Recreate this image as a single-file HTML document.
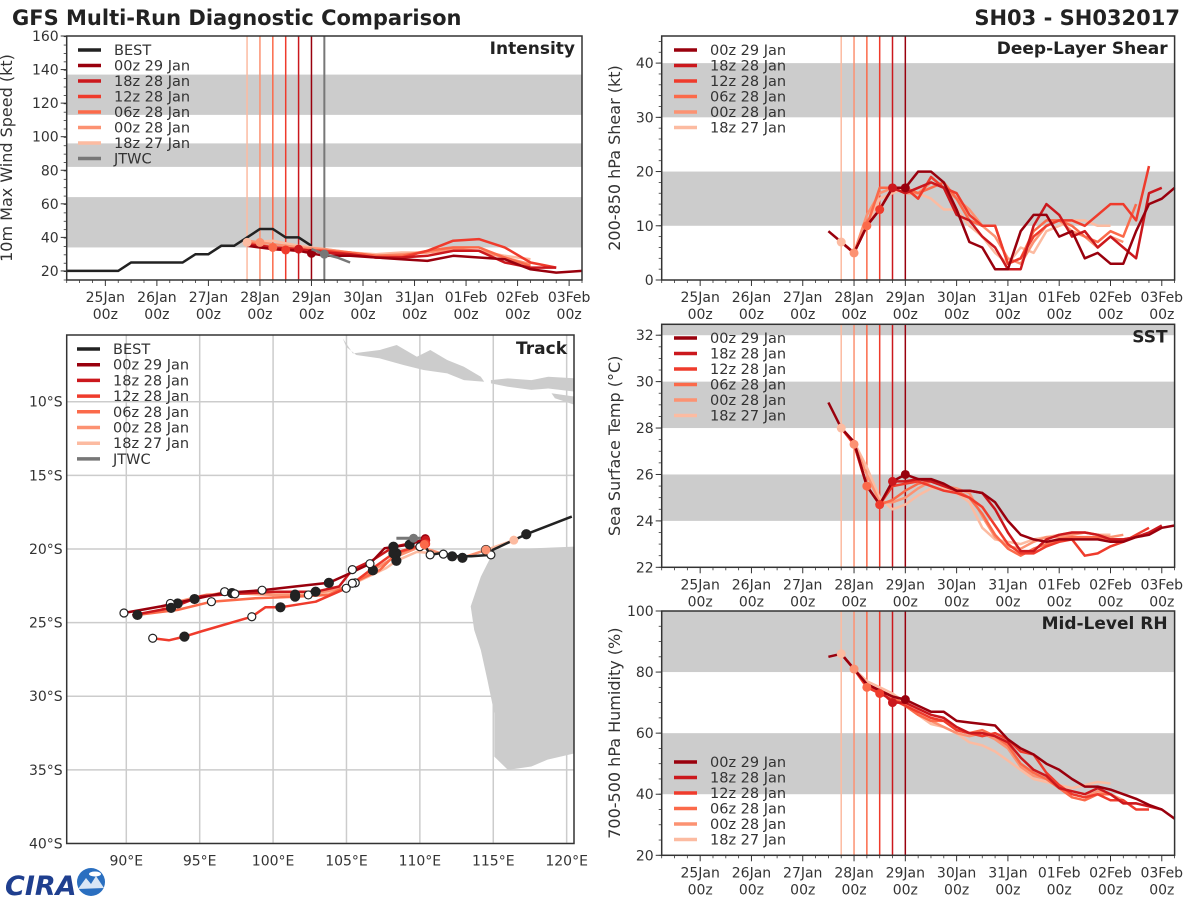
<!DOCTYPE html>
<html><head><meta charset="utf-8">
<style>
html,body{margin:0;padding:0;background:#fff;}
svg{display:block;font-family:"DejaVu Sans","Liberation Sans",sans-serif;}
</style></head>
<body>
<svg id="fig" width="1200" height="900" viewBox="0 0 1200 900" xmlns="http://www.w3.org/2000/svg">
<rect x="0" y="0" width="1200" height="900" fill="#fff"/>
<text x="12" y="25" font-size="21" font-weight="bold" fill="#222">GFS Multi-Run Diagnostic Comparison</text>
<text x="1180" y="25" font-size="21" font-weight="bold" fill="#222" text-anchor="end">SH03 - SH032017</text>
<g>
<text x="5" y="895" font-size="27" font-weight="bold" fill="#1f3f8f" font-style="italic">CIRA</text>
<circle cx="91" cy="882" r="14" fill="#2a6fc0"/>
<path d="M78 889 L86 878 L91 884 L96 876 L104 888 Z" fill="#d9e6f5"/>
<ellipse cx="95" cy="874" rx="6" ry="2.5" fill="#fff"/>
</g>
</svg>
<script>
const NS='http://www.w3.org/2000/svg';
const svg=document.getElementById('fig');
function el(tag,attrs,parent){const e=document.createElementNS(NS,tag);for(const k in attrs)e.setAttribute(k,attrs[k]);(parent||svg).appendChild(e);return e;}

// ---------- shared run metadata ----------
const runNames=['00z 29 Jan','18z 28 Jan','12z 28 Jan','06z 28 Jan','00z 28 Jan','18z 27 Jan'];
const runInit=[4.0,3.75,3.5,3.25,3.0,2.75];
const runColors=['#99000d','#cb181d','#ef3b2c','#fb6a4a','#fc9272','#fcbba1'];
const dayLabels=['25Jan','26Jan','27Jan','28Jan','29Jan','30Jan','31Jan','01Feb','02Feb','03Feb'];

// ---------- intensity data (days since 25 Jan 00z, step 0.5) ----------
const bestStart=-0.75;
const bestInt=[20,20,20,20,20,25,25,25,25,25,30,30,35,35,40,45,45,40,40,35];
const jtwcTimes=[4.0,4.25,4.5,4.75];
const jtwcInt=[33,30,28,25];
const intStarts=[2.75,2.75,2.75,2.75,2.75,2.75];
const int00z29=[35,33,32,29,29,28,27,26,29,28,27,21,19,20];
const int18z28=[36,34,33,31,30,28,28,29,32,32,25,22,22];
const int12z28=[36,33,32,32,30,28,28,32,38,39,34,25,22];
const int06z28=[37,34,33,32,31,29,29,32,34,34,28,23];
const int00z28=[38,36,34,33,31,29,30,31,33,32,28,24];
const int18z27=[37,38,35,33,31,30,31,31,32,32,29,27];

// ---------- shear data (step 0.25) ----------
const shrStarts=[2.5,2.75,2.75,2.75,2.75,2.75];
const shr00z29=[9,7,5,10,13,17,17,20,20,18,13,7,6,2,2,9,12,12,8,9,4,5,3,3,9,14,15,17];
const shr18z28=[7,5,10,13,17,16,17,18,17,12,11,8,6,2,2,10,14,12,8,9,6,8,6,4,16,17];
const shr12z28=[7,5,10,13,17,17,15,19,17,16,12,10,10,3,4,8,10,11,11,10,12,14,14,11,21];
const shr06z28=[7,5,10,17,17,17,16,17,18,15,11,10,10,3,4,9,11,11,10,8,7,9,8,14];
const shr00z28=[7,5,12,16,17,16,16,18,17,15,13,10,8,4,3,7,10,11,9,8,6,8,7];
const shr18z27=[7,5,10,15,16,17,16,15,13,13,10,8,5,3,6,5,9,10,11,11,10,10];

// ---------- SST data (step 0.25) ----------
const sstStarts=[2.5,2.75,2.75,2.75,2.75,2.75];
const sst00z29=[29.1,28.0,27.4,25.5,24.7,25.7,26.0,25.8,25.8,25.6,25.3,25.3,25.2,24.8,24.0,23.4,23.2,23.1,23.2,23.2,23.2,23.2,23.1,23.1,23.3,23.4,23.7,23.8];
const sst18z28=[28.0,27.4,25.5,24.7,25.7,25.7,25.8,25.7,25.5,25.3,25.3,25.2,24.5,23.5,22.7,22.7,23.2,23.4,23.5,23.5,23.4,23.2,23.2,23.3,23.5,23.8];
const sst12z28=[28.0,27.3,25.5,24.7,25.5,25.6,25.7,25.5,25.3,25.2,25.0,24.6,23.8,23.0,22.6,22.6,22.9,23.1,23.2,22.5,22.6,22.9,23.1,23.4,23.7];
const sst06z28=[28.0,27.3,25.5,24.7,24.9,25.3,25.6,25.7,25.5,25.3,25.0,24.3,23.4,22.8,22.5,22.8,23.0,23.2,23.3,23.3,23.3,23.2,23.2,23.3];
const sst00z28=[28.0,27.3,26.0,24.8,24.8,25.0,25.4,25.7,25.5,25.4,25.2,24.2,23.3,22.9,22.8,23.1,23.3,23.3,23.4,23.5,23.4,23.3,23.4];
const sst18z27=[28.0,27.4,26.3,25.0,24.5,24.7,25.1,25.4,25.4,25.2,24.8,23.7,23.2,23.1,23.0,23.2,23.3,23.4,23.5,23.5,23.4,23.4];

// ---------- RH data (step 0.25) ----------
const rhStarts=[2.5,2.75,2.75,2.75,2.75,2.75];
const rh00z29=[85,86,81,76,74,72,71,69,67,67,64,63.5,63,62.5,58,55,53,50,48,45,42.5,42.5,41.5,40,38.5,36.5,35,32];
const rh18z28=[86,81,76,74,70,70,68,66,65,62,60,60,59,57,52,48,46,42,41,40,42,40,37,37,36,35];
const rh12z28=[86,81,75,73,71,69,67,65,64,61,60,59,60,58,54,53,47,43,40,39,40,38,38,35,35];
const rh06z28=[86,81,75,74,72,69,66,64,64,61,60,61,59,56,50,47,45,42,39,38,40,40,37,37];
const rh00z28=[86,81,76,74,72,69,66,64,62,60,59,60,58,55,49,46,45,42,40,39,41,40,38];
const rh18z27=[86,81,77,75,73,70,66,63,62,60,57,56,54,51,48,45,44,43,42,43,44,43.5];

// ---------- track data (lon E, lat S) ----------
const bestLon=[120.35,117.25,114.95,114.84,113.5,112.2,111.6,110.7,110.4];
const bestLat=[17.8,19.0,20.07,20.4,20.5,20.5,20.25,20.4,19.85];
const jtwcLon=[110.4,109.57,108.4];
const jtwcLat=[19.27,19.27,19.27];
const trk00z29Lon=[110.37,109.3,107.6,106.6,104.98,103.8,101.5,99.25,96.5,94.65,92.36,89.84];
const trk00z29Lat=[19.3,19.7,19.95,21.0,21.77,22.3,22.55,22.8,23.0,23.4,23.9,24.35];
const trk18z28Lon=[110.4,108.2,106.8,105.4,104.5,102.9,100.15,97.4,95.1,93.05,90.4];
const trk18z28Lat=[19.4,19.85,20.75,21.4,22.55,22.9,22.9,23.05,23.2,24.0,24.5];
const trk12z28Lon=[110.4,108.2,106.8,104.98,102.9,100.5,99.47,98.55,95.2,93.96,92.9,91.8];
const trk12z28Lat=[19.65,20.3,21.3,22.67,23.58,23.96,23.96,24.6,25.57,25.95,26.2,26.06];
const trk06z28Lon=[110.3,108.4,107.27,105.4,103.8,101.5,98.78,95.8,93.5,90.76];
const trk06z28Lat=[19.7,20.3,21.43,22.33,23.12,23.24,23.35,23.58,24.14,24.48];
const trk00z28Lon=[114.5,112.9,111.6,110.0,108.2,106.8,105.2,102.4,100.05,97.2,95.5,93.0,92.4];
const trk00z28Lat=[20.07,20.6,20.35,19.85,20.6,21.45,22.55,23.12,23.12,23.0,23.1,23.7,24.0];
const trk18z27Lon=[116.4,114.5,112.9,111.6,109.8,108.4,107.7,105.6,103.8,101.5,99.25,96.7,95.5,93.5];
const trk18z27Lat=[19.4,20.07,20.6,20.35,20.2,20.8,21.3,22.3,23.0,23.1,22.9,22.9,23.2,23.7];
const trkLons=[trk00z29Lon,trk18z28Lon,trk12z28Lon,trk06z28Lon,trk00z28Lon,trk18z27Lon];
const trkLats=[trk00z29Lat,trk18z28Lat,trk12z28Lat,trk06z28Lat,trk00z28Lat,trk18z27Lat];

// ---------- generic time panel ----------
function timePanel(cfg){
  const g=el('g',{});
  
  
  const {x0,x1,y0,y1,ymin,ymax}=cfg;
  const X=t=>x0+(t+0.75)/10*(x1-x0);
  const Y=v=>y1-(v-ymin)/(ymax-ymin)*(y1-y0);
  el('rect',{x:x0,y:y0,width:x1-x0,height:y1-y0,fill:'#fff'},g);
  cfg.bands.forEach(b=>{
    const top=Math.min(b[1],ymax);
    const r=el('rect',{x:x0,y:Y(top),width:x1-x0,height:Y(b[0])-Y(top),fill:'#cccccc'},g);
    
    
  });
  for(let i=runInit.length-1;i>=0;i--){
    const l=el('line',{x1:X(runInit[i]),x2:X(runInit[i]),y1:y0,y2:y1,stroke:runColors[i],'stroke-width':1.5},g);
    
    
  }
  if(cfg.jtwcLine!==undefined){
    const l=el('line',{x1:X(cfg.jtwcLine),x2:X(cfg.jtwcLine),y1:y0,y2:y1,stroke:'#777','stroke-width':2},g);
    
    
  }
  if(cfg.before) cfg.before(g,X,Y);
  for(let i=cfg.series.length-1;i>=0;i--){
    const vals=cfg.series[i],s0=cfg.starts[i],st=cfg.step;
    const pts=vals.map((v,k)=>X(s0+k*st).toFixed(1)+','+Y(v).toFixed(1)).join(' ');
    const p=el('polyline',{points:pts,fill:'none',stroke:runColors[i],'stroke-width':2.5,'stroke-linejoin':'round'},g);
    
    
  }
  for(let i=cfg.series.length-1;i>=0;i--){
    const vals=cfg.series[i],s0=cfg.starts[i],st=cfg.step;
    const f=(runInit[i]-s0)/st;const k=Math.floor(f);
    if(k<0||k>=vals.length-1) continue;
    const v=vals[k]+(vals[k+1]-vals[k])*(f-k);
    const c=el('circle',{cx:X(runInit[i]),cy:Y(v),r:4.5,fill:runColors[i]},g);
    
    
  }
  if(cfg.after) cfg.after(g,X,Y);
  el('rect',{x:x0,y:y0,width:x1-x0,height:y1-y0,fill:'none',stroke:'#333','stroke-width':1.5},g);
  cfg.yticks.forEach(v=>{
    el('line',{x1:x0-6,x2:x0,y1:Y(v),y2:Y(v),stroke:'#333','stroke-width':1},g);
    const t=el('text',{x:x0-8,y:Y(v)+5,'font-size':14,'text-anchor':'end',fill:'#333'},g);
    t.textContent=v;
    
    
  });
  for(let v=ymin;v<=ymax+1e-6;v+=cfg.yminor){
    el('line',{x1:x0-3,x2:x0,y1:Y(v),y2:Y(v),stroke:'#333','stroke-width':0.8},g);
  }
  for(let t=-0.75;t<=9.25+1e-6;t+=0.25){
    const major=Math.abs(t-Math.round(t))<1e-6;
    el('line',{x1:X(t),x2:X(t),y1:y1,y2:y1+(major?6:3),stroke:'#333','stroke-width':major?1:0.8},g);
  }
  dayLabels.forEach((d,k)=>{
    const a=el('text',{x:X(k),y:y1+22,'font-size':14,'text-anchor':'middle',fill:'#333'},g);
    a.textContent=d;
    
    
    const b=el('text',{x:X(k),y:y1+39,'font-size':14,'text-anchor':'middle',fill:'#333'},g);
    b.textContent='00z';
    
    
  });
  const tt=el('text',{x:x1-7,y:y0+18,'font-size':17,'font-weight':'bold','text-anchor':'end',fill:'#222'},g);
  tt.textContent=cfg.title;
  
  
  const yl=el('text',{x:0,y:0,'font-size':16,'text-anchor':'middle',fill:'#333',transform:`translate(${cfg.ylx},${(y0+y1)/2}) rotate(-90)`},g);
  yl.textContent=cfg.ylabel;
  
  
  legend(g,cfg.legend,cfg.lx0,cfg.ly0,15.5);
}

function legend(g,entries,lx,ly,dy){
  entries.forEach((e,k)=>{
    const y=ly+k*dy;
    const l=el('line',{x1:lx,x2:lx+23,y1:y,y2:y,stroke:e[1],'stroke-width':3.5},g);
    
    
    const t=el('text',{x:lx+36,y:y+5,'font-size':14.5,fill:'#333'},g);
    t.textContent=e[0];
    
    
  });
}
const runLegend=runNames.map((n,i)=>[n,runColors[i]]);
const fullLegend=[['BEST','#222']].concat(runLegend).concat([['JTWC','#777']]);

timePanel({name:'intensity-panel',x0:66.7,x1:582,y0:36,y1:280,ymin:14.6,ymax:160,
  bands:[[34,64],[82,96],[113,137]],yticks:[20,40,60,80,100,120,140,160],yminor:5,
  title:'Intensity',ylabel:'10m Max Wind Speed (kt)',ylx:12,
  series:[int00z29,int18z28,int12z28,int06z28,int00z28,int18z27],starts:intStarts,step:0.5,
  jtwcLine:4.25,legend:fullLegend,lx0:78,ly0:50,
  before:(g,X,Y)=>{
    const pts=bestInt.map((v,k)=>X(bestStart+k*0.25).toFixed(1)+','+Y(v).toFixed(1)).join(' ');
    const p=el('polyline',{points:pts,fill:'none',stroke:'#222','stroke-width':2.5},g);
    
    
  },
  after:(g,X,Y)=>{
    const pts=jtwcTimes.map((t,k)=>X(t).toFixed(1)+','+Y(jtwcInt[k]).toFixed(1)).join(' ');
    const p=el('polyline',{points:pts,fill:'none',stroke:'#777','stroke-width':2.5},g);
    
    
    const c=el('circle',{cx:X(jtwcTimes[1]),cy:Y(jtwcInt[1]),r:4.5,fill:'#777'},g);
    
    
  }});

timePanel({name:'shear-panel',x0:661.7,x1:1174.6,y0:36,y1:280,ymin:0,ymax:45,
  bands:[[10,20],[30,40]],yticks:[0,10,20,30,40],yminor:2,
  title:'Deep-Layer Shear',ylabel:'200-850 hPa Shear (kt)',ylx:620,
  series:[shr00z29,shr18z28,shr12z28,shr06z28,shr00z28,shr18z27],starts:shrStarts,step:0.25,
  legend:runLegend,lx0:674,ly0:50});

timePanel({name:'sst-panel',x0:661.7,x1:1174.6,y0:324.3,y1:567.3,ymin:22,ymax:32.47,
  bands:[[24,26],[28,30],[32,33]],yticks:[22,24,26,28,30,32],yminor:0.5,
  title:'SST',ylabel:'Sea Surface Temp (°C)',ylx:620,
  series:[sst00z29,sst18z28,sst12z28,sst06z28,sst00z28,sst18z27],starts:sstStarts,step:0.25,
  legend:runLegend,lx0:674,ly0:338});

timePanel({name:'rh-panel',x0:661.7,x1:1174.6,y0:611,y1:855.3,ymin:20,ymax:100,
  bands:[[40,60],[80,100]],yticks:[20,40,60,80,100],yminor:5,
  title:'Mid-Level RH',ylabel:'700-500 hPa Humidity (%)',ylx:620,
  series:[rh00z29,rh18z28,rh12z28,rh06z28,rh00z28,rh18z27],starts:rhStarts,step:0.25,
  legend:runLegend,lx0:674,ly0:762});

// ---------- track map ----------
(function(){
  const g=el('g',{});
  
  
  const x0=66.7,x1=574,y0=335,y1=843.5;
  const lonMin=85.94,lonMax=120.5,latMin=5.47,latMax=40.0;
  const LX=lon=>x0+(lon-lonMin)/(lonMax-lonMin)*(x1-x0);
  const LY=lat=>y0+(lat-latMin)/(latMax-latMin)*(y1-y0);
  const clip=el('clipPath',{id:'trkclip'},g);
  el('rect',{x:x0,y:y0,width:x1-x0,height:y1-y0},clip);
  const inner=el('g',{'clip-path':'url(#trkclip)'},g);
  const land=[
    [[120.6,19.84],[115.07,20.07],[114.15,21.88],[113.46,23.9],[113.7,25.5],[114.15,26.86],[114.6,28.9],[115.07,31.15],[115.07,34.1],[116.0,35.0],[117.6,34.77],[118.7,34.3],[120.6,33.87]],
    [[104.75,5.7],[105.44,6.72],[107.27,6.49],[108.42,6.15],[109.8,6.95],[110.71,6.49],[111.86,7.17],[113.0,7.62],[114.15,8.3],[114.38,8.64],[113.0,8.53],[111.86,8.08],[110.25,7.85],[108.88,7.51],[107.27,7.06],[105.67,6.83],[104.98,6.27]],
    [[114.84,8.53],[115.99,8.42],[117.6,8.53],[118.74,8.3],[120.6,8.42],[120.6,9.32],[118.74,9.1],[117.6,9.2],[115.99,8.98],[114.84,8.76]],
    [[118.97,9.43],[120.6,9.66],[120.6,10.23],[119.2,9.77]]
  ];
  land.forEach(poly=>{
    const p=el('polygon',{points:poly.map(q=>LX(q[0]).toFixed(1)+','+LY(q[1]).toFixed(1)).join(' '),fill:'#cccccc'},inner);
    
    
  });
  [90,95,100,105,110,115,120].forEach(lon=>{
    el('line',{x1:LX(lon),x2:LX(lon),y1:y0,y2:y1,stroke:'#cccccc','stroke-width':1.5},inner);
    const t=el('text',{x:LX(lon),y:y1+22,'font-size':14,'text-anchor':'middle',fill:'#333'},g);
    t.textContent=lon+'°E';
    
    
  });
  [10,15,20,25,30,35,40].forEach(lat=>{
    el('line',{x1:x0,x2:x1,y1:LY(lat),y2:LY(lat),stroke:'#cccccc','stroke-width':1.5},inner);
    const t=el('text',{x:x0-4,y:LY(lat)+5,'font-size':14,'text-anchor':'end',fill:'#333'},g);
    t.textContent=lat+'°S';
    
    
  });
  function track(lons,lats,color,name,w){
    const p=el('polyline',{points:lons.map((lo,k)=>LX(lo).toFixed(1)+','+LY(lats[k]).toFixed(1)).join(' '),fill:'none',stroke:color,'stroke-width':w,'stroke-linejoin':'round'},inner);
    
    
  }
  for(let i=trkLons.length-1;i>=0;i--) track(trkLons[i],trkLats[i],runColors[i],'track-'+runNames[i].replace(/ /g,'-').toLowerCase(),2.5);
  track(jtwcLon,jtwcLat,'#777','track-jtwc',3);
  track(bestLon,bestLat,'#222','track-best',2.5);
  function markers(lons,lats,name){
    lons.forEach((lo,k)=>{
      if(k%2!==1) return;
      const filled=((k-1)/2)%2===0;
      const c=el('circle',{cx:LX(lo),cy:LY(lats[k]),r:filled?4.5:4,fill:filled?'#222':'#fff',stroke:'#222','stroke-width':1.2},inner);
      
      
    });
  }
  for(let i=trkLons.length-1;i>=0;i--) markers(trkLons[i],trkLats[i],'track-position-marker');
  markers(bestLon,bestLat,'best-position-marker');
  const jc=el('circle',{cx:LX(jtwcLon[1]),cy:LY(jtwcLat[1]),r:4.5,fill:'#777'},inner);
  
  
  for(let i=0;i<trkLons.length;i++){
    const c=el('circle',{cx:LX(trkLons[i][0]),cy:LY(trkLats[i][0]),r:4.5,fill:runColors[i]},inner);
    
    
  }
  el('rect',{x:x0,y:y0,width:x1-x0,height:y1-y0,fill:'none',stroke:'#333','stroke-width':1.5},g);
  const tt=el('text',{x:x1-7,y:y0+19,'font-size':17,'font-weight':'bold','text-anchor':'end',fill:'#222'},g);
  tt.textContent='Track';
  
  
  legend(g,fullLegend,77,349,15.7);
})();
</script>
</body></html>
